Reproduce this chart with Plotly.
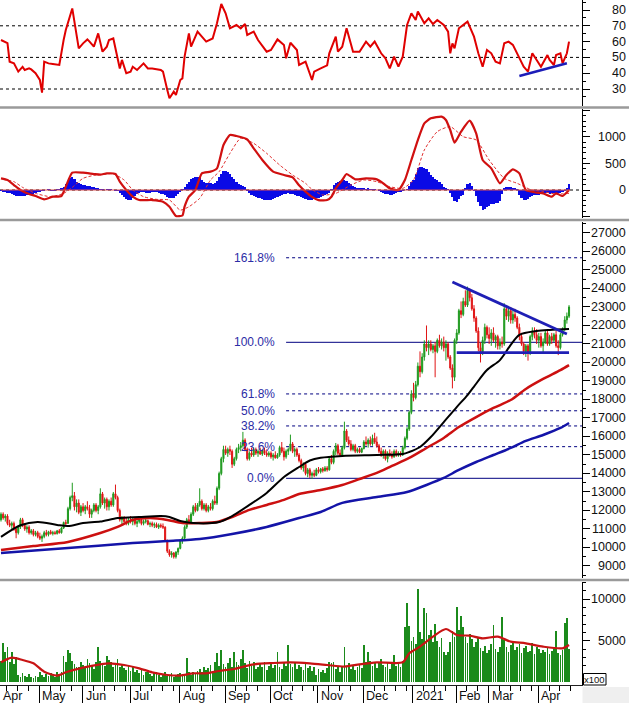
import plotly.graph_objects as go

# ---------------- x axis: trading-day index ----------------
month_names = ["Apr", "May", "Jun", "Jul", "Aug", "Sep", "Oct", "Nov", "Dec", "2021", "Feb", "Mar", "Apr"]
month_first_bar = [0, 18, 38, 60, 83, 104, 125, 147, 168, 191, 211, 226, 249]

# ---------------- daily prices (thousand VND) ----------------
open_k = [11.5, 11.8, 11.6, 11.7, 11.3, 11.2, 11.3, 11.0, 10.8, 11.1, 11.5, 11.2, 11.0, 11.1, 10.8, 10.9, 10.7, 10.8,
          10.6, 10.5, 10.6, 10.8, 10.7, 10.85, 10.75, 10.8, 10.75, 10.9, 10.8, 11.05, 11.35, 11.3, 12.1, 12.7, 12.8, 12.2, 12.4, 11.9,
          12.2, 12.0, 12.2, 12.1, 11.8, 12.0, 12.3, 12.0, 12.2, 12.9, 12.4, 12.6, 12.2, 12.5, 12.3, 12.9, 12.7, 12.0, 11.5, 11.6, 11.4, 11.3,
          11.5, 11.4, 11.5, 11.3, 11.4, 11.5, 11.3, 11.4, 11.45, 11.25, 11.3, 11.2, 11.25, 11.1, 11.2, 11.15, 11.1, 10.4, 9.8, 9.6, 9.7, 9.5, 9.75,
          9.95, 10.4, 10.5, 11.1, 11.5, 11.4, 11.8, 12.2, 12.0, 12.3, 12.5, 12.1, 12.3, 12.0, 12.2, 12.1, 12.5, 12.4, 13.2, 14.0, 14.8,
          15.3, 15.1, 15.3, 15.2, 14.5, 14.8, 15.3, 15.4, 15.5, 15.8, 15.3, 14.8, 15.1, 15.0, 15.3, 15.1, 15.2, 15.05, 15.25, 15.1, 15.0,
          15.1, 14.9, 15.0, 14.85, 15.0, 15.4, 15.2, 14.9, 15.2, 15.3, 15.6, 15.2, 15.3, 15.0, 14.7, 14.3, 14.5, 14.0, 14.2, 13.9, 14.0, 13.9,
          14.2, 14.1, 14.25, 14.15, 14.3, 14.2, 14.8, 14.6, 15.2, 15.5, 15.1, 15.0, 15.4, 16.3, 15.8, 15.6, 15.3, 15.5, 15.2, 15.3, 15.15,
          15.35, 15.7, 15.6, 15.8, 15.6, 15.9, 15.7, 15.5, 15.2, 15.0, 15.2, 14.8, 15.1, 15.0, 14.9, 15.2, 15.0, 15.1, 15.0, 15.4, 15.9, 16.4, 17.3,
          18.3, 18.1, 18.8, 19.8, 19.5, 20.3, 21.0, 20.8, 21.0, 20.7, 20.9, 20.6, 21.2, 20.9, 21.1, 20.8, 21.0, 20.3, 19.7, 19.2,
          21.2, 21.6, 22.8, 22.6, 23.3, 23.1, 23.9, 23.5, 22.9, 22.4, 21.7, 20.8, 20.5, 21.2, 21.9,
          21.5, 21.3, 21.6, 21.2, 21.4, 20.9, 21.1, 21.0, 22.9, 22.5, 22.8, 22.3, 22.6, 22.4, 21.9, 21.4, 21.0, 20.6, 20.9, 20.5, 21.4, 21.7, 21.5,
          21.2, 21.4, 20.9, 21.1, 21.6, 21.0, 21.4, 21.2, 21.5, 20.9, 20.8, 21.5, 21.8, 22.3, 22.5]
high_k = [11.9, 11.9, 11.8, 11.8, 11.5, 11.4, 11.4, 11.1, 11.2, 11.6, 11.6, 11.3, 11.2, 11.2, 11.0, 11.0, 10.9, 10.9,
          10.8, 10.7, 10.9, 10.95, 10.9, 10.95, 10.9, 10.9, 10.95, 11.0, 11.1, 11.4, 11.5, 12.2, 12.8, 13.5, 13.0, 12.6, 12.6, 12.3,
          12.4, 12.3, 12.5, 12.3, 12.1, 12.4, 12.4, 12.3, 13.2, 13.0, 12.7, 12.7, 12.6, 12.7, 13.0, 13.4, 12.8, 12.1, 11.7, 11.7, 11.6, 11.6,
          11.7, 11.6, 11.6, 11.5, 11.6, 11.6, 11.5, 11.6, 11.5, 11.4, 11.4, 11.35, 11.35, 11.3, 11.3, 11.3, 11.15, 10.4, 9.9, 9.8, 9.75, 9.8, 10.0,
          10.45, 10.6, 11.2, 11.6, 11.75, 11.9, 12.3, 12.4, 12.4, 13.2, 12.6, 12.4, 12.4, 12.3, 12.4, 12.6, 12.8, 13.3, 14.1, 14.9, 15.5,
          15.5, 15.4, 15.5, 15.3, 14.9, 15.4, 15.6, 15.7, 16.25, 15.9, 15.4, 15.2, 15.4, 15.4, 15.4, 15.3, 15.4, 15.3, 15.4, 15.3, 15.2,
          15.2, 15.1, 15.2, 15.1, 15.5, 15.7, 15.4, 15.3, 15.4, 16.1, 15.7, 15.4, 15.4, 15.1, 14.8, 14.6, 14.6, 14.3, 14.3, 14.1, 14.2, 14.3,
          14.35, 14.3, 14.35, 14.4, 14.4, 14.9, 15.0, 15.3, 15.65, 15.6, 15.3, 15.5, 16.8, 16.4, 16.0, 15.8, 15.6, 15.6, 15.4, 15.4, 15.4,
          15.8, 16.0, 15.9, 16.0, 16.1, 16.2, 16.0, 15.6, 15.4, 15.3, 15.3, 15.2, 15.3, 15.2, 15.3, 15.3, 15.2, 15.2, 15.5, 16.0, 16.5, 17.4, 18.5,
          18.9, 19.0, 20.0, 20.6, 20.5, 21.2, 22.0, 21.2, 21.2, 21.0, 21.1, 21.3, 21.5, 21.3, 21.4, 21.2, 21.1, 20.4, 19.9, 21.3,
          21.8, 22.9, 23.3, 23.5, 23.9, 24.1, 24.0, 23.7, 23.1, 22.5, 21.9, 21.1, 21.4, 22.1, 22.0,
          21.9, 21.8, 21.9, 21.5, 21.5, 21.3, 21.4, 23.2, 23.1, 23.0, 23.0, 22.8, 22.9, 22.5, 22.1, 21.6, 21.1, 21.0, 21.0, 21.5, 21.9, 21.9, 21.8,
          21.6, 21.6, 21.3, 21.75, 21.7, 21.5, 21.6, 21.6, 21.7, 21.2, 21.6, 21.9, 22.5, 22.7, 23.1]
low_k = [11.4, 11.5, 11.4, 11.2, 11.1, 11.0, 10.9, 10.5, 10.7, 11.0, 11.1, 10.9, 10.8, 10.7, 10.7, 10.6, 10.6, 10.5,
         10.4, 10.3, 10.5, 10.6, 10.6, 10.7, 10.65, 10.7, 10.7, 10.75, 10.75, 11.0, 11.2, 11.3, 12.0, 12.5, 12.0, 11.9, 11.8, 11.7,
         11.9, 11.8, 12.0, 11.6, 11.6, 11.9, 11.9, 11.8, 12.1, 12.3, 12.1, 12.0, 12.0, 12.2, 12.2, 12.6, 11.9, 11.4, 11.2, 11.3, 11.2, 11.2,
         11.3, 11.2, 11.2, 11.1, 11.3, 11.2, 11.2, 11.3, 11.2, 11.1, 11.1, 11.05, 11.05, 11.0, 11.05, 11.0, 10.3, 9.7, 9.5, 9.45, 9.4, 9.4, 9.6,
         9.9, 10.2, 10.4, 11.0, 11.3, 11.35, 11.7, 11.9, 11.95, 12.2, 12.0, 12.0, 11.9, 11.9, 12.0, 12.0, 12.3, 12.3, 13.1, 13.9, 14.6,
         15.0, 14.9, 15.0, 14.3, 14.4, 14.7, 15.1, 15.2, 15.4, 15.2, 14.7, 14.7, 14.9, 14.9, 15.0, 14.9, 15.0, 14.95, 15.0, 14.9, 14.9,
         14.8, 14.7, 14.8, 14.8, 14.9, 15.1, 14.7, 14.8, 15.0, 15.2, 15.1, 14.9, 14.9, 14.6, 14.2, 14.1, 13.9, 13.8, 13.75, 13.7, 13.8, 13.85,
         14.0, 14.0, 14.05, 14.1, 14.1, 14.15, 14.5, 14.5, 15.0, 15.0, 14.9, 14.95, 15.3, 15.7, 15.5, 15.2, 15.2, 15.1, 15.1, 15.1, 15.1,
         15.3, 15.5, 15.4, 15.5, 15.5, 15.6, 15.4, 15.1, 14.9, 14.8, 14.7, 14.6, 14.9, 14.8, 14.85, 14.9, 14.9, 14.9, 14.95, 15.3, 15.8, 16.3, 17.2,
         17.9, 18.0, 18.7, 19.2, 19.4, 20.1, 20.6, 20.4, 20.6, 20.5, 19.2, 20.5, 20.8, 20.7, 20.6, 20.1, 20.2, 19.6, 18.6, 19.0,
         21.0, 21.5, 22.4, 22.5, 23.0, 23.0, 23.3, 22.8, 22.2, 21.6, 20.6, 20.0, 20.4, 21.0, 21.3,
         21.0, 20.9, 21.1, 20.8, 20.7, 20.7, 20.8, 20.9, 22.3, 22.2, 22.1, 22.1, 22.2, 21.8, 21.2, 20.9, 20.4, 20.3, 20.1, 20.4, 21.2, 21.3, 21.0,
         20.8, 20.8, 20.5, 21.0, 20.9, 20.9, 21.0, 21.1, 20.8, 20.4, 20.7, 21.4, 21.7, 22.1, 22.4]
close_k = [11.8, 11.6, 11.7, 11.3, 11.2, 11.3, 11.0, 10.8, 11.1, 11.5, 11.2, 11.0, 11.1, 10.8, 10.9, 10.7, 10.8, 10.6,
           10.5, 10.6, 10.8, 10.7, 10.85, 10.75, 10.8, 10.75, 10.9, 10.8, 11.05, 11.35, 11.3, 12.1, 12.7, 12.8, 12.2, 12.4, 11.9, 12.2,
           12.0, 12.2, 12.1, 11.8, 12.0, 12.3, 12.0, 12.2, 12.9, 12.4, 12.6, 12.2, 12.5, 12.3, 12.9, 12.7, 12.0, 11.5, 11.6, 11.4, 11.3, 11.5,
           11.4, 11.5, 11.3, 11.4, 11.5, 11.3, 11.4, 11.45, 11.25, 11.3, 11.2, 11.25, 11.1, 11.2, 11.15, 11.1, 10.4, 9.8, 9.6, 9.7, 9.5, 9.75, 9.95,
           10.4, 10.5, 11.1, 11.5, 11.4, 11.8, 12.2, 12.0, 12.3, 12.5, 12.1, 12.3, 12.0, 12.2, 12.1, 12.5, 12.4, 13.2, 14.0, 14.8, 15.3,
           15.1, 15.3, 15.2, 14.5, 14.8, 15.3, 15.4, 15.5, 15.8, 15.3, 14.8, 15.1, 15.0, 15.3, 15.1, 15.2, 15.05, 15.25, 15.1, 15.0, 15.1,
           14.9, 15.0, 14.85, 15.0, 15.4, 15.2, 14.9, 15.2, 15.3, 15.6, 15.2, 15.3, 15.0, 14.7, 14.3, 14.5, 14.0, 14.2, 13.9, 14.0, 13.9, 14.2,
           14.1, 14.25, 14.15, 14.3, 14.2, 14.8, 14.6, 15.2, 15.5, 15.1, 15.0, 15.4, 16.3, 15.8, 15.6, 15.3, 15.5, 15.2, 15.3, 15.15, 15.35,
           15.7, 15.6, 15.8, 15.6, 15.9, 15.7, 15.5, 15.2, 15.0, 15.2, 14.8, 15.1, 15.0, 14.9, 15.2, 15.0, 15.1, 15.0, 15.4, 15.9, 16.4, 17.3, 18.3,
           18.1, 18.8, 19.8, 19.5, 20.3, 21.0, 20.8, 21.0, 20.7, 20.9, 20.6, 21.2, 20.9, 21.1, 20.8, 21.0, 20.3, 19.7, 19.2, 21.2,
           21.6, 22.8, 22.6, 23.3, 23.1, 23.9, 23.5, 22.9, 22.4, 21.7, 20.8, 20.5, 21.2, 21.9, 21.5,
           21.3, 21.6, 21.2, 21.4, 20.9, 21.1, 21.0, 22.9, 22.5, 22.8, 22.3, 22.6, 22.4, 21.9, 21.4, 21.0, 20.6, 20.9, 20.5, 21.4, 21.7, 21.5, 21.2,
           21.4, 20.9, 21.1, 21.6, 21.0, 21.4, 21.2, 21.5, 20.9, 20.8, 21.5, 21.8, 22.3, 22.5, 23.0]

# ---------------- volume (x100 shares) ----------------
volume = [2600, 4700, 3600, 4300, 2400, 3600, 2200, 3000,
          900, 700, 1100, 800, 600, 1000, 700, 500, 800, 600,
          1200, 900, 700, 1000, 800, 1100, 900, 600, 1200, 1000, 1300,
          3200, 2400, 3900, 3500, 2600, 2200, 1800,
          1900, 2500, 2100, 1700, 2800, 2300, 2000, 1600, 2400, 4200,
          2600, 2200, 2000, 3200, 2700, 2400, 1900, 2300, 2800, 1800, 2200, 1700, 1500, 2000, 1400, 1800,
          1300, 1500, 1100, 1700, 900, 1200, 1400, 1000, 800, 1100, 1300, 900, 700, 1000, 1200, 800, 900, 1100, 700, 900, 1000,
          1100, 800, 1000, 2900, 1200, 900, 1300, 1000, 1400,
          1600, 1300, 1900, 1500, 1700, 2100, 1400, 2400, 3500, 2000, 3900, 2200,
          1800, 2300, 2900, 1900, 3700, 2500, 2100, 2800, 3900, 2300, 1700, 2600, 2000,
          2400, 1600, 1900, 2200, 1800, 2500, 1500, 2000, 2300, 1700, 2100,
          3700, 1900, 1600, 2400, 2000, 4500, 2200,
          1800, 2400, 1600, 2100, 1900, 1500, 2300, 1700, 2000, 1400, 1800, 900, 1600, 1200, 1500, 1100, 1700,
          2500, 2300, 2400, 1600, 1900, 1300, 2000,
          4200, 1900, 2300, 1600, 2100, 1500, 1900, 2200, 1700,
          4500, 2400, 3700, 2600, 2000, 2300, 1700, 2500, 2800, 2100, 1900, 2400, 1600, 2200, 3300, 2000, 2400, 1800, 2600,
          6700, 9500, 6800, 5000,
          5400, 4600, 11200, 6000, 5200, 8900, 8300,
          5700, 6300, 4800, 7000, 5000, 4200, 5300, 3600, 3300, 3700, 4800, 6200, 5500,
          9000, 6300, 8000, 6600, 5400, 4700, 5800, 5200, 4300, 4900, 5500, 4100, 3800, 4400, 3500,
          3900, 4600, 6900, 4000, 3600, 4200,
          7900, 5100, 4300, 3700, 4500, 4800, 3900, 4200, 4600, 3500, 4100, 4400, 3600, 3800, 4700, 3400, 4300, 4000, 3500,
          3900, 3600, 4200, 3400, 3800, 4100, 6150, 3500, 3300, 3900, 7100, 7700, 4000]
vol_ma_x = [0, 5, 10, 15, 20, 26, 30, 38, 46, 50, 57, 64, 70, 77, 83, 89, 95, 101, 108, 117,
            126, 134, 143, 151, 159, 166, 174, 186, 189, 194, 200, 206, 211, 217, 223, 230, 236, 243, 251, 260, 263]
vol_ma = [2410, 2970, 2690, 2290, 1290, 810, 1210, 1770, 2170, 2290, 2090, 1690, 1210, 890, 810, 1090, 1090, 1370, 1610, 2170,
          2330, 2410, 2290, 2090, 1890, 2170, 2410, 2410, 3490, 4290, 5490, 6410, 5690, 5610, 5290, 5490, 4890, 4690, 4290, 4090, 4490]

# ---------------- moving averages (thousand VND, read at these bars) ----------------
ma_black_x = [0, 9, 17, 26, 31, 38, 46, 54, 64, 74, 78, 83, 89, 101, 107, 115, 123, 131, 138, 143,
              148, 158, 174, 186, 189, 194, 199, 205, 211, 216, 219, 225, 231, 236, 240, 248, 254, 263]
ma_black_k = [10.57, 11.2, 11.38, 11.22, 11.16, 11.32, 11.4, 11.59, 11.65, 11.7, 11.65, 11.43, 11.32, 11.38, 11.7, 12.3, 12.95, 13.81, 14.35, 14.7,
              14.85, 14.95, 15.0, 15.05, 15.16, 15.43, 15.97, 16.78, 17.59, 18.24, 18.7, 19.59, 20.13, 20.95, 21.49, 21.7, 21.76, 21.81]
ma_red_x = [0, 15, 31, 46, 54, 61, 69, 77, 84, 92, 100, 107, 115, 123, 131, 138, 148, 158, 166, 174,
            181, 189, 197, 205, 212, 220, 228, 236, 243, 251, 259, 263]
ma_red_k = [9.87, 10.08, 10.3, 10.78, 11.11, 11.49, 11.59, 11.49, 11.32, 11.32, 11.38, 11.65, 12.03, 12.3, 12.57, 12.89, 13.11, 13.38, 13.7, 14.03,
            14.41, 14.84, 15.38, 15.92, 16.51, 17.05, 17.54, 17.97, 18.57, 19.11, 19.59, 19.86]
ma_blue_x = [0, 31, 61, 77, 92, 107, 123, 138, 148, 158, 174, 188, 197, 205, 212, 220, 228, 236, 243, 251, 259, 263]
ma_blue_k = [9.7, 9.97, 10.24, 10.35, 10.46, 10.73, 11.11, 11.59, 11.92, 12.41, 12.73, 13.0, 13.38, 13.76, 14.19, 14.62, 15.0, 15.38, 15.76, 16.08, 16.46, 16.73]

# trend lines on price (thousand VND)
trend_down_x = [209, 262]
trend_down_k = [24.35, 21.54]
support_x = [211, 263]
support_k = [20.53, 20.53]

# Fibonacci retracement levels (thousand VND)
fib_names = ["0.0%", "23.6%", "38.2%", "50.0%", "61.8%", "100.0%", "161.8%"]
fib_k = [13.74, 15.45, 16.57, 17.39, 18.30, 21.09, 25.66]
fib_start_bar = 132

# ---------------- RSI ----------------
rsi_x = [0, 3, 4, 6, 8, 10, 11, 13, 14, 16, 18, 19, 20, 22, 24, 27, 29, 30, 33, 34,
         36, 38, 40, 41, 43, 45, 47, 49, 50, 52, 53, 55, 56, 58, 60, 61, 63, 66, 68, 70,
         74, 75, 77, 78, 80, 81, 83, 84, 85, 87, 88, 91, 93, 95, 98, 100, 102, 104, 106, 109,
         111, 113, 114, 117, 119, 123, 125, 128, 131, 132, 134, 137, 138, 141, 144, 145, 148, 151, 152, 155,
         156, 158, 160, 162, 163, 166, 169, 171, 173, 176, 178, 180, 182, 184, 186, 188, 190, 192, 193, 196,
         198, 200, 202, 205, 207, 208, 209, 210, 212, 216, 219, 221, 223, 225, 227, 229, 231, 233, 235, 237,
         239, 242, 244, 246, 248, 250, 253, 254, 256, 257, 259, 260, 262, 263]
rsi_v = [61, 59, 47.3, 46.2, 41, 44, 42, 43.1, 42.4, 40, 35.7, 27.7, 47.3, 46.2, 45.8, 45.2, 61, 67.3, 81, 71.6,
         55.7, 58.9, 61.4, 60, 56.8, 65.2, 53.6, 56.8, 61, 62, 55.7, 43, 48.4, 40, 41, 44.1, 42, 46.2, 43, 43,
         42, 41, 29.4, 24.1, 28.3, 26.2, 35.7, 36.7, 50.5, 65.2, 56.8, 66.3, 63.1, 60, 62, 71.6, 83.8, 77.9, 68.4, 70.5,
         68.4, 71.1, 64.2, 66.3, 61, 53.6, 54.7, 61.4, 57.9, 49.4, 59.3, 54.7, 45.2, 47.3, 35.7, 41, 43, 45, 52.6, 63.1,
         53.6, 56.8, 68.4, 58.9, 53.6, 53.6, 60, 56.8, 60, 52.6, 49.4, 43, 50.5, 44.1, 50.5, 70.5, 77.9, 73.7, 79, 71.6,
         74.7, 71.1, 73.7, 70.5, 66.3, 52.6, 58.9, 55.7, 68.4, 72.6, 63.1, 52.6, 44.1, 54.7, 52.6, 47.3, 46.2, 58.9, 60, 57.9,
         52.6, 44.1, 41, 52.6, 48.4, 44.1, 51.5, 48.4, 45.2, 51.5, 52.6, 46.2, 52.6, 60]
rsi_levels = [30, 50, 70]
rsi_trend_x = [240, 262]
rsi_trend_v = [38.2, 46.3]

# ---------------- MACD ----------------
macd_x = [0, 3, 6, 9, 13, 16, 20, 24, 28, 30, 33, 38, 43, 46, 49, 53, 55, 58, 61, 64,
          70, 75, 78, 81, 84, 85, 87, 90, 93, 97, 100, 103, 106, 109, 114, 117, 121, 126, 131, 135,
          138, 141, 144, 147, 151, 153, 155, 158, 160, 164, 169, 174, 177, 180, 184, 187, 190, 193, 196, 199,
          204, 206, 208, 210, 213, 217, 220, 223, 227, 231, 234, 237, 240, 243, 248, 251, 255, 257, 260, 263]
macd_v = [220, 188, 94, 0, -76, -113, -176, -126, -113, 63, 327, 327, 302, 290, 314, 302, 157, 0, -126, -189,
          -189, -220, -315, -491, -480, -315, -126, 0, 314, 346, 409, 849, 1038, 1019, 956, 786, 566, 346, 283, 239,
          90, -30, -130, -190, -190, -126, 31, 189, 302, 201, 220, 201, 126, 31, 0, 189, 566, 943, 1258, 1352,
          1384, 1321, 1132, 893, 1101, 1308, 1069, 566, 409, 126, 283, 390, 314, 0, -50, -63, -126, -63, -113, 0]
signal_x = [1, 6, 10, 16, 23, 29, 33, 38, 44, 52, 57, 61, 66, 72, 78, 83, 87, 92, 97, 101,
            106, 111, 117, 123, 129, 135, 141, 144, 149, 155, 162, 168, 174, 180, 186, 191, 196, 202, 208, 214,
            220, 226, 233, 239, 245, 251, 257, 263]
signal_v = [201, 157, 50, -63, -126, -63, 50, 220, 283, 302, 189, 0, -126, -176, -189, -378, -315, -157, 189, 346,
            692, 975, 880, 692, 472, 283, 126, 10, -94, -63, 94, 189, 157, 63, 31, 189, 755, 1101, 1195, 1006,
            943, 566, 220, 126, 12, -31, -76, -63]
macd_hist = [-20, -30, -40, -50, -60,
             -80, -100, -110, -120, -120, -115, -110, -100, -90, -80, -70, -60,
             -40, -30, -20, -10, 0, 10, -10, -20, -10, 10, 20, 30,
             60, 110, 170, 220, 240,
             200, 160, 130, 110, 100, 90, 80, 70, 60, 50, 40, 35,
             20, 10, 0, 10, 20, 10, 0, -10, -20,
             -60, -100, -140, -170, -190, -185, -160, -120, -80,
             -50, -40, -45, -55, -60, -50, -40, -35, -45, -60, -70, -80, -95,
             -130, -155, -160, -150, -120, -80, -30, 20,
             60, 110, 160, 200, 230, 250, 245, 220, 190, 160, 140, 130,
             125, 120, 130, 170,
             240, 310, 350, 360, 340, 300, 250, 200, 160, 120, 90, 70, 50,
             -20, -60, -90, -110, -130, -150, -160, -170, -180,
             -185, -190, -185, -175, -160, -140,
             -110, -90, -80, -70, -60, -70, -80, -95, -110, -120,
             -140, -160, -175, -185, -190, -180, -170, -160, -150, -140, -120, -100, -80, -50,
             20, 90, 130, 150, 170, 185, 190, 170, 140, 110, 80,
             50, 40, 30, 35, 30, 25, 30, 20, 15, 10, 0,
             -20, -40, -55, -70, -80, -90, -85, -75, -60, -45, -30, -15,
             0, 20, 80, 150,
             190, 300, 410, 430, 440, 420, 390, 340, 280, 250, 210, 180, 160, 120, 60, 30, 10,
             -60, -130, -200, -220, -170, -110, -90,
             40, 110, 130, 80, -20,
             -120, -220, -300, -370, -350, -320, -300, -270, -260, -250, -240, -200,
             -80, 30, 60, 55, 50, 45, 40, 20,
             -90, -160, -190, -185, -170, -140, -110, -95, -90, -85, -80,
             -70, -65, -60, -75, -50, -60, -70, -55, -65, -40, -20, 30, 110]

# ---------------- axis ticks ----------------
rsi_ticks = [30, 40, 50, 60, 70, 80]
macd_ticks = [0, 500, 1000]
price_ticks = list(range(9000, 27001, 1000))
vol_ticks = [5000, 10000]

# =============================== figure ===============================
K = 1000
bars = list(range(len(close_k)))
o = [v * K for v in open_k]
h = [v * K for v in high_k]
l = [v * K for v in low_k]
c = [v * K for v in close_k]

W, H = 629, 703
MR, MB = 47, 18
PW, PH = W - MR, H - MB


def py(px):
    return (PH - px) / PH


def pxx(px):
    return px / PW


XR = [-0.46, 269.0]
FONT = "Liberation Sans, Arial, sans-serif"
GREEN = "#1f9a1f"
RED = "#e01515"
VOLG = "#1b8a1b"

fig = go.Figure()

# RSI
fig.add_trace(go.Scatter(x=rsi_x, y=rsi_v, mode="lines", line=dict(color="#e00000", width=2), xaxis="x", yaxis="y"))
fig.add_trace(go.Scatter(x=rsi_trend_x, y=rsi_trend_v, mode="lines", line=dict(color="#1c1cb8", width=2.5), xaxis="x", yaxis="y"))

# MACD
fig.add_trace(go.Bar(x=bars, y=macd_hist, width=1.0, marker=dict(color="#0a0ae6", line=dict(width=0)), xaxis="x2", yaxis="y2"))
fig.add_trace(go.Scatter(x=signal_x, y=signal_v, mode="lines",
                         line=dict(color="#e03030", width=1, dash="3px,2px", shape="spline", smoothing=0.6), xaxis="x2", yaxis="y2"))
fig.add_trace(go.Scatter(x=macd_x, y=macd_v, mode="lines",
                         line=dict(color="#d01010", width=2.2, shape="spline", smoothing=0.5), xaxis="x2", yaxis="y2"))

# Price
fig.add_trace(go.Candlestick(x=bars, open=o, high=h, low=l, close=c,
                             increasing=dict(line=dict(color=GREEN, width=1), fillcolor=GREEN),
                             decreasing=dict(line=dict(color=RED, width=1), fillcolor=RED),
                             xaxis="x3", yaxis="y3"))
fig.add_trace(go.Scatter(x=ma_blue_x, y=[v * K for v in ma_blue_k], mode="lines",
                         line=dict(color="#1414a8", width=2.5, shape="spline", smoothing=0.8), xaxis="x3", yaxis="y3"))
fig.add_trace(go.Scatter(x=ma_red_x, y=[v * K for v in ma_red_k], mode="lines",
                         line=dict(color="#cc1010", width=2.5, shape="spline", smoothing=0.8), xaxis="x3", yaxis="y3"))
fig.add_trace(go.Scatter(x=ma_black_x, y=[v * K for v in ma_black_k], mode="lines",
                         line=dict(color="#000000", width=2, shape="spline", smoothing=0.8), xaxis="x3", yaxis="y3"))
fig.add_trace(go.Scatter(x=trend_down_x, y=[v * K for v in trend_down_k], mode="lines",
                         line=dict(color="#1f1fb5", width=2.8), xaxis="x3", yaxis="y3"))
fig.add_trace(go.Scatter(x=support_x, y=[v * K for v in support_k], mode="lines",
                         line=dict(color="#1f1fb5", width=2.8), xaxis="x3", yaxis="y3"))

# Volume
fig.add_trace(go.Bar(x=bars, y=volume, width=0.8, marker=dict(color=VOLG, line=dict(width=0)), xaxis="x4", yaxis="y4"))
fig.add_trace(go.Scatter(x=vol_ma_x, y=vol_ma, mode="lines",
                         line=dict(color="#c81414", width=2.2, shape="spline", smoothing=0.7), xaxis="x4", yaxis="y4"))

# ---------------- axes ----------------
xbase = dict(range=XR, showgrid=False, zeroline=False, showticklabels=False, showline=False, ticks="", fixedrange=True)

boundaries = [b - 0.25 for b in month_first_bar[1:]]
weekly = []
for k in range(1, 4):
    weekly.append(month_first_bar[1] - 0.25 - 5 * k)
for idx in range(1, len(month_first_bar)):
    b = month_first_bar[idx]
    nxt = month_first_bar[idx + 1] if idx + 1 < len(month_first_bar) else 268
    t = b - 0.25 + 5
    while t < nxt - 2:
        weekly.append(t)
        t += 5


def yaxis(dom, rng, major, minor, anchor):
    return dict(domain=dom, range=rng, side="right", anchor=anchor, showgrid=False, zeroline=False,
                showticklabels=False, showline=True, linecolor="#000000", linewidth=1,
                ticks="outside", ticklen=7, tickwidth=1, tickcolor="#000000", tickmode="array", tickvals=major,
                minor=dict(tickmode="array", tickvals=minor, ticks="outside", ticklen=3, tickcolor="#000000", tickwidth=1),
                fixedrange=True)


rsi_dom = [py(106), 1.0]
macd_dom = [py(218), py(109)]
price_dom = [py(578), py(222)]
vol_dom = [0.0, py(582)]

fig.update_layout(
    width=W, height=H, autosize=False,
    margin=dict(l=0, r=MR, t=0, b=MB, pad=0),
    paper_bgcolor="#ffffff", plot_bgcolor="#ffffff",
    showlegend=False, hovermode=False, barmode="overlay", bargap=0,
    font=dict(family=FONT, size=12, color="#111111"),
    xaxis=dict(xbase, domain=[0, 1], anchor="y"),
    xaxis2=dict(xbase, domain=[0, 1], anchor="y2"),
    xaxis3=dict(xbase, domain=[0, 1], anchor="y3", rangeslider=dict(visible=False)),
    xaxis4=dict(domain=[0, 1], anchor="y4", range=XR, showgrid=False, zeroline=False, showticklabels=False,
                showline=True, linecolor="#202020", linewidth=1, ticks="outside", tickmode="array",
                tickvals=boundaries, ticklen=18, tickcolor="#000000", tickwidth=1,
                minor=dict(tickmode="array", tickvals=weekly, ticks="outside", ticklen=5, tickcolor="#000000", tickwidth=1),
                fixedrange=True),
    yaxis=yaxis(rsi_dom, [19.24, 86.33], rsi_ticks, [25, 35, 45, 55, 65, 75, 85], "x"),
    yaxis2=yaxis(macd_dom, [-528, 1528], [-500, 0, 500, 1000, 1500],
                 [v for v in range(-500, 1501, 100) if v % 500 != 0], "x2"),
    yaxis3=yaxis(price_dom, [8351, 27593], price_ticks, list(range(8500, 27600, 1000)), "x3"),
    yaxis4=yaxis(vol_dom, [-312, 12048], [0, 5000, 10000],
                 [v for v in range(1000, 12001, 1000) if v % 5000 != 0], "x4"),
)

shapes = []
for lv in rsi_levels:
    shapes.append(dict(type="line", xref="x domain", x0=0, x1=1, yref="y", y0=lv, y1=lv,
                       line=dict(color="#000000", width=1, dash="3px,3px"), layer="below"))
shapes.append(dict(type="line", xref="x2 domain", x0=0, x1=1, yref="y2", y0=0, y1=0,
                   line=dict(color="#000000", width=1, dash="3px,3px"), layer="below"))
shapes.append(dict(type="line", xref="x2", x0=0, x1=263.5, yref="y2", y0=0, y1=0,
                   line=dict(color="#e05050", width=1), layer="above"))
for name, lv in zip(fib_names, fib_k):
    solid = name in ("0.0%", "100.0%")
    shapes.append(dict(type="line", xref="x3", x0=fib_start_bar, x1=XR[1], yref="y3", y0=lv * K, y1=lv * K,
                       line=dict(color="#000080", width=1, dash="solid" if solid else "3px,3px"), layer="below"))
# panel separators
for sp in (107.5, 220, 580):
    shapes.append(dict(type="line", xref="paper", x0=0, x1=pxx(W), yref="paper", y0=py(sp), y1=py(sp),
                       line=dict(color="#9a9a9a", width=2.5)))
# corner grey area and x100 box
shapes.append(dict(type="rect", xref="paper", x0=pxx(582.5), x1=pxx(W), yref="paper", y0=py(H), y1=py(687),
                   fillcolor="#efefef", line=dict(width=0)))
shapes.append(dict(type="rect", xref="paper", x0=pxx(583.5), x1=pxx(606), yref="paper", y0=py(685), y1=py(673.5),
                   fillcolor="#ffffff", line=dict(color="#000000", width=1)))
fig.update_layout(shapes=shapes)

ann = []
lab_x = pxx(628)
for yref, ticks in (("y", rsi_ticks), ("y2", macd_ticks), ("y3", price_ticks), ("y4", vol_ticks)):
    for t in ticks:
        ann.append(dict(xref="paper", x=lab_x, xanchor="right", yref=yref, y=t, yanchor="middle",
                        text=str(t), showarrow=False, font=dict(family=FONT, size=12.5, color="#111111")))
for name, lv in zip(fib_names, fib_k):
    ann.append(dict(xref="x3", x=fib_start_bar, xanchor="right", xshift=-9, yref="y3", y=lv * K, yanchor="middle",
                    text=name, showarrow=False, font=dict(family=FONT, size=12, color="#2c2ca6")))
for name, b in zip(month_names, month_first_bar):
    xpos = XR[0] if b == 0 else b - 0.25
    ann.append(dict(xref="x4", x=xpos, xanchor="left", xshift=1, yref="paper", y=py(695.5), yanchor="middle",
                    text=name, showarrow=False, font=dict(family=FONT, size=12.5, color="#111111")))
ann.append(dict(xref="paper", x=pxx(594.8), xanchor="center", yref="paper", y=py(679.3), yanchor="middle",
                text="x100", showarrow=False, font=dict(family=FONT, size=9.5, color="#111111")))
fig.update_layout(annotations=ann)

fig.write_html("out.html", config={"displayModeBar": False, "staticPlot": True})
